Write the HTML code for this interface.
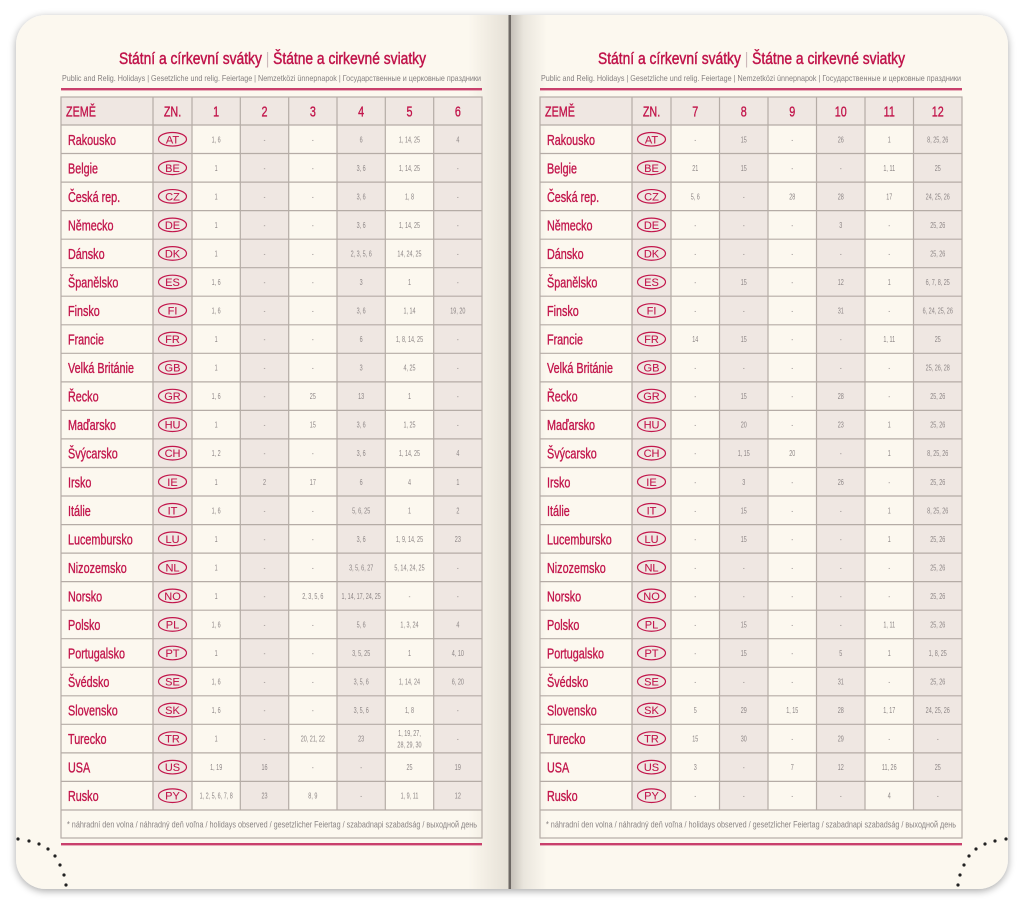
<!DOCTYPE html>
<html><head><meta charset="utf-8">
<style>
html,body{margin:0;padding:0;background:#fff;}
svg{display:block;font-family:"Liberation Sans","DejaVu Sans",sans-serif;}
.t{fill:#c0134a;font-size:17px;stroke:#c0134a;stroke-width:.45;}
.st{fill:#858080;font-size:8.5px;}
.nm{fill:#c2164c;font-size:14.5px;stroke:#c2164c;stroke-width:.35;}
.hd{fill:#c2164c;font-size:14.5px;stroke:#c2164c;stroke-width:.35;text-anchor:middle;}
.pl{fill:#c2164c;font-size:11px;text-anchor:middle;stroke:#c2164c;stroke-width:.1;}
.d{fill:#8d8686;font-size:8.5px;text-anchor:middle;}
.fn{fill:#8a8484;font-size:9px;}
.sh{fill:#efe7e2;}
.g{stroke:#b5aca6;stroke-width:1.2;fill:none;}
.el{fill:none;stroke:#c2164c;stroke-width:1.2;}
</style></head><body>
<svg width="1024" height="905" viewBox="0 0 1024 905" xmlns="http://www.w3.org/2000/svg">
<defs>
<filter id="sh" x="-5%" y="-5%" width="110%" height="110%">
<feGaussianBlur in="SourceAlpha" stdDeviation="4"/><feOffset dy="2"/>
<feComponentTransfer><feFuncA type="linear" slope="0.35"/></feComponentTransfer>
<feMerge><feMergeNode/><feMergeNode in="SourceGraphic"/></feMerge></filter>
<linearGradient id="gl" x1="0" x2="1"><stop offset="0" stop-color="#8a8070" stop-opacity="0"/><stop offset="1" stop-color="#8a8070" stop-opacity=".2"/></linearGradient>
<linearGradient id="gr" x1="0" x2="1"><stop offset="0" stop-color="#7a756e" stop-opacity=".42"/><stop offset=".35" stop-color="#7a756e" stop-opacity=".14"/><stop offset="1" stop-color="#7a756e" stop-opacity="0"/></linearGradient>
<path id="hl" d="M0 125H421.5M0 153.5H421.5M0 182.1H421.5M0 210.6H421.5M0 239.2H421.5M0 267.7H421.5M0 296.2H421.5M0 324.8H421.5M0 353.3H421.5M0 381.9H421.5M0 410.4H421.5M0 438.9H421.5M0 467.5H421.5M0 496H421.5M0 524.6H421.5M0 553.1H421.5M0 581.6H421.5M0 610.2H421.5M0 638.7H421.5M0 667.3H421.5M0 695.8H421.5M0 724.3H421.5M0 752.9H421.5M0 781.4H421.5M0 810H421.5"/>
</defs>
<rect width="1024" height="905" fill="#fff"/>
<g filter="url(#sh)">
<path d="M46 15H511V889H46A30 30 0 0 1 16 859V45A30 30 0 0 1 46 15Z" fill="#fcf8ef"/>
<path d="M511 15H978A30 30 0 0 1 1008 45V859A30 30 0 0 1 978 889H511Z" fill="#fcf8ef"/>
</g>
<rect x="468" y="15" width="41" height="874" fill="url(#gl)"/>
<rect x="511" y="15" width="36" height="874" fill="url(#gr)"/>
<rect x="508.5" y="15" width="2.5" height="874" fill="#6d6864"/>

<!-- LEFT PAGE -->
<text class="t" x="119" y="64" textLength="307" lengthAdjust="spacingAndGlyphs">Státní a církevní svátky <tspan fill="#cdb9bb" stroke="none">|</tspan> Štátne a cirkevné sviatky</text>
<text class="st" x="62" y="81" textLength="419" lengthAdjust="spacingAndGlyphs">Public and Relig. Holidays | Gesetzliche und relig. Feiertage | Nemzetközi ünnepnapok | Государственные и церковные праздники</text>
<rect x="61" y="88" width="421" height="2.4" fill="#c9406c"/>
<rect x="61" y="97" width="421" height="28" class="sh"/>
<rect x="153" y="125" width="39" height="685" class="sh"/>
<rect x="240.33" y="125" width="48.33" height="685" class="sh"/>
<rect x="337" y="125" width="48.33" height="685" class="sh"/>
<rect x="433.67" y="125" width="48.33" height="685" class="sh"/>
<use href="#hl" x="61" class="g"/>
<path class="g" d="M153 97V810M192 97V810M240.3 97V810M288.7 97V810M337 97V810M385.3 97V810M433.7 97V810"/>
<rect x="61" y="97" width="421" height="741" class="g" stroke="#aaa19b"/>
<rect x="61" y="843" width="421" height="2.4" fill="#c9406c"/>

<g transform="translate(66,0) scale(.745,1)"><text class="nm" y="116.5">ZEMĚ</text></g>
<g transform="translate(172.5,0) scale(.745,1)"><text class="hd" y="116.5">ZN.</text></g>
<g transform="translate(216.17,0) scale(.745,1)"><text class="hd" y="116.5">1</text></g>
<g transform="translate(264.5,0) scale(.745,1)"><text class="hd" y="116.5">2</text></g>
<g transform="translate(312.83,0) scale(.745,1)"><text class="hd" y="116.5">3</text></g>
<g transform="translate(361.17,0) scale(.745,1)"><text class="hd" y="116.5">4</text></g>
<g transform="translate(409.5,0) scale(.745,1)"><text class="hd" y="116.5">5</text></g>
<g transform="translate(457.83,0) scale(.745,1)"><text class="hd" y="116.5">6</text></g>

<g transform="translate(68,0) scale(.745,1)">
<text class="nm" y="144.8">Rakousko</text><text class="nm" y="173.3">Belgie</text><text class="nm" y="201.9">Česká rep.</text><text class="nm" y="230.4">Německo</text><text class="nm" y="258.9">Dánsko</text><text class="nm" y="287.5">Španělsko</text><text class="nm" y="316">Finsko</text><text class="nm" y="344.6">Francie</text><text class="nm" y="373.1">Velká Británie</text><text class="nm" y="401.6">Řecko</text><text class="nm" y="430.2">Maďarsko</text><text class="nm" y="458.7">Švýcarsko</text><text class="nm" y="487.3">Irsko</text><text class="nm" y="515.8">Itálie</text><text class="nm" y="544.3">Lucembursko</text><text class="nm" y="572.9">Nizozemsko</text><text class="nm" y="601.4">Norsko</text><text class="nm" y="630">Polsko</text><text class="nm" y="658.5">Portugalsko</text><text class="nm" y="687">Švédsko</text><text class="nm" y="715.6">Slovensko</text><text class="nm" y="744.1">Turecko</text><text class="nm" y="772.7">USA</text><text class="nm" y="801.2">Rusko</text>
</g>

<g transform="translate(172.5,0)">
<ellipse class="el" cy="139.27" rx="14" ry="6.8"/><ellipse class="el" cy="167.81" rx="14" ry="6.8"/><ellipse class="el" cy="196.35" rx="14" ry="6.8"/><ellipse class="el" cy="224.89" rx="14" ry="6.8"/><ellipse class="el" cy="253.43" rx="14" ry="6.8"/><ellipse class="el" cy="281.97" rx="14" ry="6.8"/><ellipse class="el" cy="310.51" rx="14" ry="6.8"/><ellipse class="el" cy="339.05" rx="14" ry="6.8"/><ellipse class="el" cy="367.59" rx="14" ry="6.8"/><ellipse class="el" cy="396.13" rx="14" ry="6.8"/><ellipse class="el" cy="424.67" rx="14" ry="6.8"/><ellipse class="el" cy="453.21" rx="14" ry="6.8"/><ellipse class="el" cy="481.75" rx="14" ry="6.8"/><ellipse class="el" cy="510.29" rx="14" ry="6.8"/><ellipse class="el" cy="538.83" rx="14" ry="6.8"/><ellipse class="el" cy="567.37" rx="14" ry="6.8"/><ellipse class="el" cy="595.91" rx="14" ry="6.8"/><ellipse class="el" cy="624.45" rx="14" ry="6.8"/><ellipse class="el" cy="652.99" rx="14" ry="6.8"/><ellipse class="el" cy="681.53" rx="14" ry="6.8"/><ellipse class="el" cy="710.07" rx="14" ry="6.8"/><ellipse class="el" cy="738.61" rx="14" ry="6.8"/><ellipse class="el" cy="767.15" rx="14" ry="6.8"/><ellipse class="el" cy="795.69" rx="14" ry="6.8"/>
<text class="pl" y="143.3">AT</text><text class="pl" y="171.8">BE</text><text class="pl" y="200.4">CZ</text><text class="pl" y="228.9">DE</text><text class="pl" y="257.4">DK</text><text class="pl" y="286">ES</text><text class="pl" y="314.5">FI</text><text class="pl" y="343.1">FR</text><text class="pl" y="371.6">GB</text><text class="pl" y="400.1">GR</text><text class="pl" y="428.7">HU</text><text class="pl" y="457.2">CH</text><text class="pl" y="485.8">IE</text><text class="pl" y="514.3">IT</text><text class="pl" y="542.8">LU</text><text class="pl" y="571.4">NL</text><text class="pl" y="599.9">NO</text><text class="pl" y="628.5">PL</text><text class="pl" y="657">PT</text><text class="pl" y="685.5">SE</text><text class="pl" y="714.1">SK</text><text class="pl" y="742.6">TR</text><text class="pl" y="771.2">US</text><text class="pl" y="799.7">PY</text>
</g>

<!-- left data -->
<g transform="translate(216.17,0) scale(.64,1)">
<text class="d" y="142.3">1, 6</text><text class="d" y="170.8">1</text><text class="d" y="199.4">1</text><text class="d" y="227.9">1</text><text class="d" y="256.4">1</text><text class="d" y="285">1, 6</text><text class="d" y="313.5">1, 6</text><text class="d" y="342.1">1</text><text class="d" y="370.6">1</text><text class="d" y="399.1">1, 6</text><text class="d" y="427.7">1</text><text class="d" y="456.2">1, 2</text><text class="d" y="484.8">1</text><text class="d" y="513.3">1, 6</text><text class="d" y="541.8">1</text><text class="d" y="570.4">1</text><text class="d" y="598.9">1</text><text class="d" y="627.5">1, 6</text><text class="d" y="656">1</text><text class="d" y="684.5">1, 6</text><text class="d" y="713.1">1, 6</text><text class="d" y="741.6">1</text><text class="d" y="770.2">1, 19</text><text class="d" y="798.7">1, 2, 5, 6, 7, 8</text>
</g>
<g transform="translate(264.5,0) scale(.64,1)">
<text class="d" y="142.3">-</text><text class="d" y="170.8">-</text><text class="d" y="199.4">-</text><text class="d" y="227.9">-</text><text class="d" y="256.4">-</text><text class="d" y="285">-</text><text class="d" y="313.5">-</text><text class="d" y="342.1">-</text><text class="d" y="370.6">-</text><text class="d" y="399.1">-</text><text class="d" y="427.7">-</text><text class="d" y="456.2">-</text><text class="d" y="484.8">2</text><text class="d" y="513.3">-</text><text class="d" y="541.8">-</text><text class="d" y="570.4">-</text><text class="d" y="598.9">-</text><text class="d" y="627.5">-</text><text class="d" y="656">-</text><text class="d" y="684.5">-</text><text class="d" y="713.1">-</text><text class="d" y="741.6">-</text><text class="d" y="770.2">16</text><text class="d" y="798.7">23</text>
</g>
<g transform="translate(312.83,0) scale(.64,1)">
<text class="d" y="142.3">-</text><text class="d" y="170.8">-</text><text class="d" y="199.4">-</text><text class="d" y="227.9">-</text><text class="d" y="256.4">-</text><text class="d" y="285">-</text><text class="d" y="313.5">-</text><text class="d" y="342.1">-</text><text class="d" y="370.6">-</text><text class="d" y="399.1">25</text><text class="d" y="427.7">15</text><text class="d" y="456.2">-</text><text class="d" y="484.8">17</text><text class="d" y="513.3">-</text><text class="d" y="541.8">-</text><text class="d" y="570.4">-</text><text class="d" y="598.9">2, 3, 5, 6</text><text class="d" y="627.5">-</text><text class="d" y="656">-</text><text class="d" y="684.5">-</text><text class="d" y="713.1">-</text><text class="d" y="741.6">20, 21, 22</text><text class="d" y="770.2">-</text><text class="d" y="798.7">8, 9</text>
</g>
<g transform="translate(361.17,0) scale(.64,1)">
<text class="d" y="142.3">6</text><text class="d" y="170.8">3, 6</text><text class="d" y="199.4">3, 6</text><text class="d" y="227.9">3, 6</text><text class="d" y="256.4">2, 3, 5, 6</text><text class="d" y="285">3</text><text class="d" y="313.5">3, 6</text><text class="d" y="342.1">6</text><text class="d" y="370.6">3</text><text class="d" y="399.1">13</text><text class="d" y="427.7">3, 6</text><text class="d" y="456.2">3, 6</text><text class="d" y="484.8">6</text><text class="d" y="513.3">5, 6, 25</text><text class="d" y="541.8">3, 6</text><text class="d" y="570.4">3, 5, 6, 27</text><text class="d" y="598.9">1, 14, 17, 24, 25</text><text class="d" y="627.5">5, 6</text><text class="d" y="656">3, 5, 25</text><text class="d" y="684.5">3, 5, 6</text><text class="d" y="713.1">3, 5, 6</text><text class="d" y="741.6">23</text><text class="d" y="770.2">-</text><text class="d" y="798.7">-</text>
</g>
<g transform="translate(409.5,0) scale(.64,1)">
<text class="d" y="142.3">1, 14, 25</text><text class="d" y="170.8">1, 14, 25</text><text class="d" y="199.4">1, 8</text><text class="d" y="227.9">1, 14, 25</text><text class="d" y="256.4">14, 24, 25</text><text class="d" y="285">1</text><text class="d" y="313.5">1, 14</text><text class="d" y="342.1">1, 8, 14, 25</text><text class="d" y="370.6">4, 25</text><text class="d" y="399.1">1</text><text class="d" y="427.7">1, 25</text><text class="d" y="456.2">1, 14, 25</text><text class="d" y="484.8">4</text><text class="d" y="513.3">1</text><text class="d" y="541.8">1, 9, 14, 25</text><text class="d" y="570.4">5, 14, 24, 25</text><text class="d" y="598.9">-</text><text class="d" y="627.5">1, 3, 24</text><text class="d" y="656">1</text><text class="d" y="684.5">1, 14, 24</text><text class="d" y="713.1">1, 8</text><text class="d" y="736">1, 19, 27,</text><text class="d" y="747.5">28, 29, 30</text><text class="d" y="770.2">25</text><text class="d" y="798.7">1, 9, 11</text>
</g>
<g transform="translate(457.83,0) scale(.64,1)">
<text class="d" y="142.3">4</text><text class="d" y="170.8">-</text><text class="d" y="199.4">-</text><text class="d" y="227.9">-</text><text class="d" y="256.4">-</text><text class="d" y="285">-</text><text class="d" y="313.5">19, 20</text><text class="d" y="342.1">-</text><text class="d" y="370.6">-</text><text class="d" y="399.1">-</text><text class="d" y="427.7">-</text><text class="d" y="456.2">4</text><text class="d" y="484.8">1</text><text class="d" y="513.3">2</text><text class="d" y="541.8">23</text><text class="d" y="570.4">-</text><text class="d" y="598.9">-</text><text class="d" y="627.5">4</text><text class="d" y="656">4, 10</text><text class="d" y="684.5">6, 20</text><text class="d" y="713.1">-</text><text class="d" y="741.6">-</text><text class="d" y="770.2">19</text><text class="d" y="798.7">12</text>
</g>
<text class="fn" x="67" y="827.5" textLength="410" lengthAdjust="spacingAndGlyphs">* náhradní den volna / náhradný deň voľna / holidays observed / gesetzlicher Feiertag / szabadnapi szabadság / выходной день</text>

<!-- RIGHT PAGE -->
<text class="t" x="598" y="64" textLength="307" lengthAdjust="spacingAndGlyphs">Státní a církevní svátky <tspan fill="#cdb9bb" stroke="none">|</tspan> Štátne a cirkevné sviatky</text>
<text class="st" x="541" y="81" textLength="420" lengthAdjust="spacingAndGlyphs">Public and Relig. Holidays | Gesetzliche und relig. Feiertage | Nemzetközi ünnepnapok | Государственные и церковные праздники</text>
<rect x="540" y="88" width="422" height="2.4" fill="#c9406c"/>
<rect x="540" y="97" width="422" height="28" class="sh"/>
<rect x="632" y="125" width="39" height="685" class="sh"/>
<rect x="719.5" y="125" width="48.5" height="685" class="sh"/>
<rect x="816.5" y="125" width="48.5" height="685" class="sh"/>
<rect x="913.5" y="125" width="48.5" height="685" class="sh"/>
<use href="#hl" x="540" class="g"/>
<path class="g" d="M632 97V810M671 97V810M719.5 97V810M768 97V810M816.5 97V810M865 97V810M913.5 97V810"/>
<rect x="540" y="97" width="422" height="741" class="g" stroke="#aaa19b"/>
<rect x="540" y="843" width="422" height="2.4" fill="#c9406c"/>

<g transform="translate(545,0) scale(.745,1)"><text class="nm" y="116.5">ZEMĚ</text></g>
<g transform="translate(651.5,0) scale(.745,1)"><text class="hd" y="116.5">ZN.</text></g>
<g transform="translate(695.25,0) scale(.745,1)"><text class="hd" y="116.5">7</text></g>
<g transform="translate(743.75,0) scale(.745,1)"><text class="hd" y="116.5">8</text></g>
<g transform="translate(792.25,0) scale(.745,1)"><text class="hd" y="116.5">9</text></g>
<g transform="translate(840.75,0) scale(.745,1)"><text class="hd" y="116.5">10</text></g>
<g transform="translate(889.25,0) scale(.745,1)"><text class="hd" y="116.5">11</text></g>
<g transform="translate(937.75,0) scale(.745,1)"><text class="hd" y="116.5">12</text></g>

<g transform="translate(547,0) scale(.745,1)">
<text class="nm" y="144.8">Rakousko</text><text class="nm" y="173.3">Belgie</text><text class="nm" y="201.9">Česká rep.</text><text class="nm" y="230.4">Německo</text><text class="nm" y="258.9">Dánsko</text><text class="nm" y="287.5">Španělsko</text><text class="nm" y="316">Finsko</text><text class="nm" y="344.6">Francie</text><text class="nm" y="373.1">Velká Británie</text><text class="nm" y="401.6">Řecko</text><text class="nm" y="430.2">Maďarsko</text><text class="nm" y="458.7">Švýcarsko</text><text class="nm" y="487.3">Irsko</text><text class="nm" y="515.8">Itálie</text><text class="nm" y="544.3">Lucembursko</text><text class="nm" y="572.9">Nizozemsko</text><text class="nm" y="601.4">Norsko</text><text class="nm" y="630">Polsko</text><text class="nm" y="658.5">Portugalsko</text><text class="nm" y="687">Švédsko</text><text class="nm" y="715.6">Slovensko</text><text class="nm" y="744.1">Turecko</text><text class="nm" y="772.7">USA</text><text class="nm" y="801.2">Rusko</text>
</g>
<g transform="translate(651.5,0)">
<ellipse class="el" cy="139.27" rx="14" ry="6.8"/><ellipse class="el" cy="167.81" rx="14" ry="6.8"/><ellipse class="el" cy="196.35" rx="14" ry="6.8"/><ellipse class="el" cy="224.89" rx="14" ry="6.8"/><ellipse class="el" cy="253.43" rx="14" ry="6.8"/><ellipse class="el" cy="281.97" rx="14" ry="6.8"/><ellipse class="el" cy="310.51" rx="14" ry="6.8"/><ellipse class="el" cy="339.05" rx="14" ry="6.8"/><ellipse class="el" cy="367.59" rx="14" ry="6.8"/><ellipse class="el" cy="396.13" rx="14" ry="6.8"/><ellipse class="el" cy="424.67" rx="14" ry="6.8"/><ellipse class="el" cy="453.21" rx="14" ry="6.8"/><ellipse class="el" cy="481.75" rx="14" ry="6.8"/><ellipse class="el" cy="510.29" rx="14" ry="6.8"/><ellipse class="el" cy="538.83" rx="14" ry="6.8"/><ellipse class="el" cy="567.37" rx="14" ry="6.8"/><ellipse class="el" cy="595.91" rx="14" ry="6.8"/><ellipse class="el" cy="624.45" rx="14" ry="6.8"/><ellipse class="el" cy="652.99" rx="14" ry="6.8"/><ellipse class="el" cy="681.53" rx="14" ry="6.8"/><ellipse class="el" cy="710.07" rx="14" ry="6.8"/><ellipse class="el" cy="738.61" rx="14" ry="6.8"/><ellipse class="el" cy="767.15" rx="14" ry="6.8"/><ellipse class="el" cy="795.69" rx="14" ry="6.8"/>
<text class="pl" y="143.3">AT</text><text class="pl" y="171.8">BE</text><text class="pl" y="200.4">CZ</text><text class="pl" y="228.9">DE</text><text class="pl" y="257.4">DK</text><text class="pl" y="286">ES</text><text class="pl" y="314.5">FI</text><text class="pl" y="343.1">FR</text><text class="pl" y="371.6">GB</text><text class="pl" y="400.1">GR</text><text class="pl" y="428.7">HU</text><text class="pl" y="457.2">CH</text><text class="pl" y="485.8">IE</text><text class="pl" y="514.3">IT</text><text class="pl" y="542.8">LU</text><text class="pl" y="571.4">NL</text><text class="pl" y="599.9">NO</text><text class="pl" y="628.5">PL</text><text class="pl" y="657">PT</text><text class="pl" y="685.5">SE</text><text class="pl" y="714.1">SK</text><text class="pl" y="742.6">TR</text><text class="pl" y="771.2">US</text><text class="pl" y="799.7">PY</text>
</g>

<g transform="translate(695.25,0) scale(.64,1)">
<text class="d" y="142.3">-</text><text class="d" y="170.8">21</text><text class="d" y="199.4">5, 6</text><text class="d" y="227.9">-</text><text class="d" y="256.4">-</text><text class="d" y="285">-</text><text class="d" y="313.5">-</text><text class="d" y="342.1">14</text><text class="d" y="370.6">-</text><text class="d" y="399.1">-</text><text class="d" y="427.7">-</text><text class="d" y="456.2">-</text><text class="d" y="484.8">-</text><text class="d" y="513.3">-</text><text class="d" y="541.8">-</text><text class="d" y="570.4">-</text><text class="d" y="598.9">-</text><text class="d" y="627.5">-</text><text class="d" y="656">-</text><text class="d" y="684.5">-</text><text class="d" y="713.1">5</text><text class="d" y="741.6">15</text><text class="d" y="770.2">3</text><text class="d" y="798.7">-</text>
</g>
<g transform="translate(743.75,0) scale(.64,1)">
<text class="d" y="142.3">15</text><text class="d" y="170.8">15</text><text class="d" y="199.4">-</text><text class="d" y="227.9">-</text><text class="d" y="256.4">-</text><text class="d" y="285">15</text><text class="d" y="313.5">-</text><text class="d" y="342.1">15</text><text class="d" y="370.6">-</text><text class="d" y="399.1">15</text><text class="d" y="427.7">20</text><text class="d" y="456.2">1, 15</text><text class="d" y="484.8">3</text><text class="d" y="513.3">15</text><text class="d" y="541.8">15</text><text class="d" y="570.4">-</text><text class="d" y="598.9">-</text><text class="d" y="627.5">15</text><text class="d" y="656">15</text><text class="d" y="684.5">-</text><text class="d" y="713.1">29</text><text class="d" y="741.6">30</text><text class="d" y="770.2">-</text><text class="d" y="798.7">-</text>
</g>
<g transform="translate(792.25,0) scale(.64,1)">
<text class="d" y="142.3">-</text><text class="d" y="170.8">-</text><text class="d" y="199.4">28</text><text class="d" y="227.9">-</text><text class="d" y="256.4">-</text><text class="d" y="285">-</text><text class="d" y="313.5">-</text><text class="d" y="342.1">-</text><text class="d" y="370.6">-</text><text class="d" y="399.1">-</text><text class="d" y="427.7">-</text><text class="d" y="456.2">20</text><text class="d" y="484.8">-</text><text class="d" y="513.3">-</text><text class="d" y="541.8">-</text><text class="d" y="570.4">-</text><text class="d" y="598.9">-</text><text class="d" y="627.5">-</text><text class="d" y="656">-</text><text class="d" y="684.5">-</text><text class="d" y="713.1">1, 15</text><text class="d" y="741.6">-</text><text class="d" y="770.2">7</text><text class="d" y="798.7">-</text>
</g>
<g transform="translate(840.75,0) scale(.64,1)">
<text class="d" y="142.3">26</text><text class="d" y="170.8">-</text><text class="d" y="199.4">28</text><text class="d" y="227.9">3</text><text class="d" y="256.4">-</text><text class="d" y="285">12</text><text class="d" y="313.5">31</text><text class="d" y="342.1">-</text><text class="d" y="370.6">-</text><text class="d" y="399.1">28</text><text class="d" y="427.7">23</text><text class="d" y="456.2">-</text><text class="d" y="484.8">26</text><text class="d" y="513.3">-</text><text class="d" y="541.8">-</text><text class="d" y="570.4">-</text><text class="d" y="598.9">-</text><text class="d" y="627.5">-</text><text class="d" y="656">5</text><text class="d" y="684.5">31</text><text class="d" y="713.1">28</text><text class="d" y="741.6">29</text><text class="d" y="770.2">12</text><text class="d" y="798.7">-</text>
</g>
<g transform="translate(889.25,0) scale(.64,1)">
<text class="d" y="142.3">1</text><text class="d" y="170.8">1, 11</text><text class="d" y="199.4">17</text><text class="d" y="227.9">-</text><text class="d" y="256.4">-</text><text class="d" y="285">1</text><text class="d" y="313.5">-</text><text class="d" y="342.1">1, 11</text><text class="d" y="370.6">-</text><text class="d" y="399.1">-</text><text class="d" y="427.7">1</text><text class="d" y="456.2">1</text><text class="d" y="484.8">-</text><text class="d" y="513.3">1</text><text class="d" y="541.8">1</text><text class="d" y="570.4">-</text><text class="d" y="598.9">-</text><text class="d" y="627.5">1, 11</text><text class="d" y="656">1</text><text class="d" y="684.5">-</text><text class="d" y="713.1">1, 17</text><text class="d" y="741.6">-</text><text class="d" y="770.2">11, 26</text><text class="d" y="798.7">4</text>
</g>
<g transform="translate(937.75,0) scale(.64,1)">
<text class="d" y="142.3">8, 25, 26</text><text class="d" y="170.8">25</text><text class="d" y="199.4">24, 25, 26</text><text class="d" y="227.9">25, 26</text><text class="d" y="256.4">25, 26</text><text class="d" y="285">6, 7, 8, 25</text><text class="d" y="313.5">6, 24, 25, 26</text><text class="d" y="342.1">25</text><text class="d" y="370.6">25, 26, 28</text><text class="d" y="399.1">25, 26</text><text class="d" y="427.7">25, 26</text><text class="d" y="456.2">8, 25, 26</text><text class="d" y="484.8">25, 26</text><text class="d" y="513.3">8, 25, 26</text><text class="d" y="541.8">25, 26</text><text class="d" y="570.4">25, 26</text><text class="d" y="598.9">25, 26</text><text class="d" y="627.5">25, 26</text><text class="d" y="656">1, 8, 25</text><text class="d" y="684.5">25, 26</text><text class="d" y="713.1">24, 25, 26</text><text class="d" y="741.6">-</text><text class="d" y="770.2">25</text><text class="d" y="798.7">-</text>
</g>
<text class="fn" x="546" y="827.5" textLength="410" lengthAdjust="spacingAndGlyphs">* náhradní den volna / náhradný deň voľna / holidays observed / gesetzlicher Feiertag / szabadnapi szabadság / выходной день</text>

<!-- dots -->
<g fill="#222">
<circle cx="18" cy="839" r="1.6"/><circle cx="29" cy="841" r="1.6"/><circle cx="39" cy="844" r="1.6"/><circle cx="48" cy="849" r="1.6"/><circle cx="55" cy="856" r="1.6"/><circle cx="60" cy="865" r="1.6"/><circle cx="64" cy="875" r="1.6"/><circle cx="66" cy="885" r="1.6"/>
<circle cx="1006" cy="839" r="1.6"/><circle cx="995" cy="841" r="1.6"/><circle cx="985" cy="844" r="1.6"/><circle cx="976" cy="849" r="1.6"/><circle cx="969" cy="856" r="1.6"/><circle cx="964" cy="865" r="1.6"/><circle cx="960" cy="875" r="1.6"/><circle cx="958" cy="885" r="1.6"/>
</g>
</svg>
</body></html>
